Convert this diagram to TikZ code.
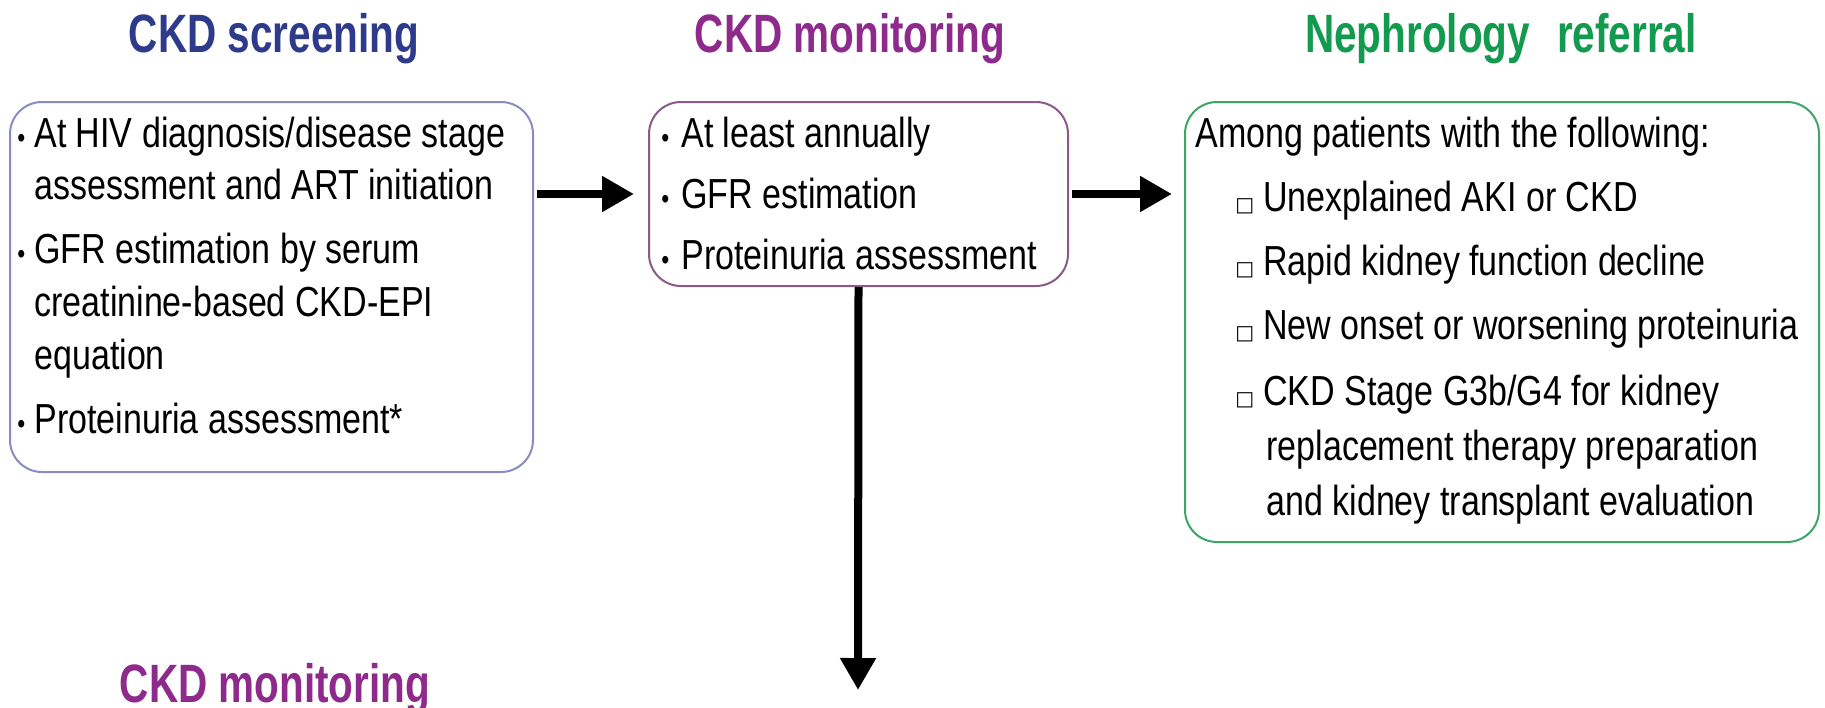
\documentclass[tikz,border=0pt]{standalone}
\usepackage{fontspec}
\setmainfont{Liberation Sans}[FakeStretch=0.81]
\newfontfamily\titlefont{Liberation Sans Bold}[FakeStretch=0.75]
\newfontfamily\symfont{DejaVu Sans}
\usetikzlibrary{arrows.meta}

\definecolor{scrblue}{HTML}{2E3A8C}
\definecolor{monpurple}{HTML}{8E2A8C}
\definecolor{refgreen}{HTML}{129A4E}
\definecolor{scrline}{HTML}{8A8CC0}
\definecolor{monline}{HTML}{8A5A8A}
\definecolor{refline}{HTML}{3DA565}

\begin{document}
\begin{tikzpicture}[x=0.5pt,y=-0.5pt,
  panel/.style={draw, line width=1pt, rounded corners=16pt, anchor=north west, inner sep=0pt},
  heading/.style={font=\titlefont\fontsize{27}{32}\selectfont, anchor=base, inner sep=0pt},
  bodytext/.style={font=\fontsize{21}{25}\selectfont, anchor=base west, inner sep=0pt},
  dot/.style={font=\fontsize{14}{16}\selectfont, anchor=base west, inner sep=0pt},
  tick/.style={font=\symfont\fontsize{10}{12}\selectfont, anchor=base west, inner sep=0pt},
  flow/.style={line width=4pt, -{Triangle[length=16pt,width=17pt]}}
]
\useasboundingbox (0,0) rectangle (1825,707);
\fill[white] (0,0) rectangle (1825,707);

% headings
\node[heading, text=scrblue]   (h1) at (274,52)  {CKD screening};
\node[heading, text=monpurple] (h2) at (850,52)  {CKD monitoring};
\node[heading, text=refgreen]  (h3) at (1501,52) {Nephrology\hspace{0.5em}referral};
\node[heading, text=monpurple] (h4) at (275,702) {CKD monitoring};

% panels
\node[panel, draw=scrline, minimum width=261.5pt, minimum height=185pt] (b1) at (9,101) {};
\node[panel, draw=monline, minimum width=209.5pt, minimum height=92pt]  (b2) at (648,101) {};
\node[panel, draw=refline, minimum width=317pt,   minimum height=220pt] (b3) at (1184,101) {};

% screening panel text
\node[dot] (d11) at (17,147) {•};
\node[bodytext] (t11) at (34,147) {At HIV diagnosis/disease stage};
\node[bodytext] (t12) at (34,199) {assessment and ART initiation};
\node[dot] (d12) at (17,263) {•};
\node[bodytext] (t13) at (34,263) {GFR estimation by serum};
\node[bodytext] (t14) at (34,316) {creatinine-based CKD-EPI};
\node[bodytext] (t15) at (34,369) {equation};
\node[dot] (d13) at (17,433) {•};
\node[bodytext] (t16) at (34,433) {Proteinuria assessment*};

% monitoring panel text
\node[dot] (d21) at (661,147) {•};
\node[bodytext] (t21) at (681,147) {At least annually};
\node[dot] (d22) at (661,208) {•};
\node[bodytext] (t22) at (681,208) {GFR estimation};
\node[dot] (d23) at (661,269) {•};
\node[bodytext] (t23) at (681,269) {Proteinuria assessment};

% referral panel text
\node[bodytext] (t31) at (1195,147) {Among patients with the following:};
\node[tick] (q31) at (1235,211) {□};
\node[bodytext] (t32) at (1263,211) {Unexplained AKI or CKD};
\node[tick] (q32) at (1235,275) {□};
\node[bodytext] (t33) at (1263,275) {Rapid kidney function decline};
\node[tick] (q33) at (1235,339) {□};
\node[bodytext] (t34) at (1263,339) {New onset or worsening proteinuria};
\node[tick] (q34) at (1235,405) {□};
\node[bodytext] (t35) at (1263,405) {CKD Stage G3b/G4 for kidney};
\node[bodytext] (t36) at (1266,460) {replacement therapy preparation};
\node[bodytext] (t37) at (1266,515) {and kidney transplant evaluation};

% connectors
\coordinate (down) at (858,690);
\draw[flow, shorten <=1.5pt, shorten >=7pt] (b1.east |- b2.west) -- (b2.west);
\draw[flow, shorten <=1.5pt, shorten >=6pt] (b2.east) -- (b3.west |- b2.east);
\draw[flow] (b2.south) -- (down);
\end{tikzpicture}
\end{document}
